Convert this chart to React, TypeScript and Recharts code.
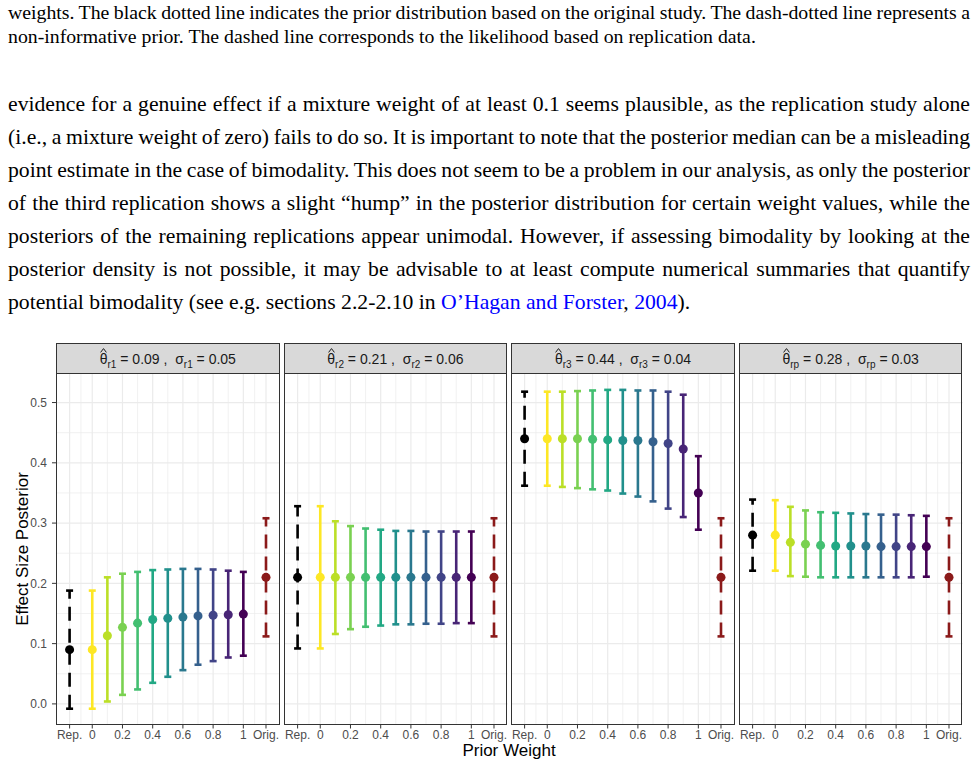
import React from 'react';
import { ScatterChart, Scatter, XAxis, YAxis, CartesianGrid, ErrorBar } from 'recharts';

// ---- data -------------------------------------------------------------

// mixture weights given to the original study in the prior
const priorWeights = [0, 0.1, 0.2, 0.3, 0.4, 0.5, 0.6, 0.7, 0.8, 0.9, 1];
const weightColors = ['#FDE725', '#BBDF27', '#7AD151', '#43BF71', '#22A884', '#21908C', '#2A788E', '#35608D', '#414487', '#482576', '#440154'];
const repColor = '#000000';
const origColor = '#8B1A1A';

// facet strip labels
const facetSubscripts = ['r1', 'r2', 'r3', 'rp'];
const facetThetaHat = ['0.09', '0.21', '0.44', '0.28'];
const facetSigma = ['0.05', '0.06', '0.04', '0.03'];

// replication data alone ("Rep.")
const repEstimate = [0.09, 0.21, 0.44, 0.28];
const repLower = [-0.008, 0.092, 0.362, 0.221];
const repUpper = [0.188, 0.328, 0.518, 0.339];

// original study ("Orig.")
const origEstimate = [0.21, 0.21, 0.21, 0.21];
const origLower = [0.112, 0.112, 0.112, 0.112];
const origUpper = [0.308, 0.308, 0.308, 0.308];

// posterior medians and 95% credible limits per prior weight
const r1Median = [0.09, 0.113, 0.127, 0.134, 0.14, 0.142, 0.144, 0.146, 0.147, 0.148, 0.149];
const r1Lower = [-0.008, 0.004, 0.015, 0.024, 0.035, 0.045, 0.056, 0.065, 0.071, 0.077, 0.08];
const r1Upper = [0.188, 0.21, 0.216, 0.219, 0.222, 0.223, 0.224, 0.224, 0.223, 0.221, 0.219];

const r2Median = [0.21, 0.21, 0.21, 0.21, 0.21, 0.21, 0.21, 0.21, 0.21, 0.21, 0.21];
const r2Lower = [0.092, 0.116, 0.124, 0.128, 0.13, 0.132, 0.132, 0.133, 0.133, 0.134, 0.134];
const r2Upper = [0.328, 0.303, 0.295, 0.291, 0.289, 0.287, 0.287, 0.286, 0.286, 0.286, 0.286];

const r3Median = [0.44, 0.44, 0.44, 0.439, 0.438, 0.437, 0.437, 0.435, 0.432, 0.423, 0.35];
const r3Lower = [0.362, 0.36, 0.358, 0.356, 0.354, 0.349, 0.344, 0.336, 0.324, 0.31, 0.289];
const r3Upper = [0.518, 0.518, 0.519, 0.52, 0.521, 0.521, 0.52, 0.52, 0.518, 0.513, 0.411];

const rpMedian = [0.28, 0.268, 0.265, 0.263, 0.262, 0.262, 0.262, 0.261, 0.261, 0.261, 0.261];
const rpLower = [0.221, 0.212, 0.211, 0.21, 0.21, 0.21, 0.21, 0.21, 0.21, 0.21, 0.211];
const rpUpper = [0.338, 0.327, 0.321, 0.318, 0.317, 0.316, 0.315, 0.314, 0.314, 0.313, 0.312];

const panelMedians = [r1Median, r2Median, r3Median, rpMedian];
const panelLowers = [r1Lower, r2Lower, r3Lower, rpLower];
const panelUppers = [r1Upper, r2Upper, r3Upper, rpUpper];

// axis positions and labels
const xRep = -0.15;
const xOrig = 1.15;
const xTickValues = [-0.15, 0, 0.2, 0.4, 0.6, 0.8, 1, 1.15];
const xTickLabels = ['Rep.', '0', '0.2', '0.4', '0.6', '0.8', '1', 'Orig.'];
const xMinorBreaks = [-0.075, 0.1, 0.3, 0.5, 0.7, 0.9, 1.075];
const yTickValues = [0, 0.1, 0.2, 0.3, 0.4, 0.5];
const yTickLabels = ['0.0', '0.1', '0.2', '0.3', '0.4', '0.5'];
const yMinorBreaks = [0.05, 0.15, 0.25, 0.35, 0.45];
const xDomain = [-0.24, 1.24];
const yDomain = [-0.035, 0.549];

// ---- page text ---------------------------------------------------------

const captionLines = [
  'weights. The black dotted line indicates the prior distribution based on the original study. The dash-dotted line represents a',
  'non-informative prior. The dashed line corresponds to the likelihood based on replication data.',
];

const bodyLines = [
  'evidence for a genuine effect if a mixture weight of at least 0.1 seems plausible, as the replication study alone',
  '(i.e., a mixture weight of zero) fails to do so. It is important to note that the posterior median can be a misleading',
  'point estimate in the case of bimodality. This does not seem to be a problem in our analysis, as only the posterior',
  'of the third replication shows a slight \u201Chump\u201D in the posterior distribution for certain weight values, while the',
  'posteriors of the remaining replications appear unimodal. However, if assessing bimodality by looking at the',
  'posterior density is not possible, it may be advisable to at least compute numerical summaries that quantify',
];

// ---- layout ------------------------------------------------------------

const SANS = "'Liberation Sans', Arial, Helvetica, sans-serif";
const SERIF = "'Liberation Serif', 'Times New Roman', Times, serif";
const PANEL_LEFTS = [56, 283.6, 511.2, 738.8];
const PANEL_W = 223.6;
const PLOT_TOP = 373;
const PLOT_H = 352;
const STRIP_TOP = 343;
const STRIP_H = 30;
const AXIS_H = 22;
const PAD = 22;
const Y_AXIS_W = 56;

const fmtX = (v: number) => {
  const i = xTickValues.findIndex((t) => Math.abs(t - v) < 1e-9);
  return i >= 0 ? xTickLabels[i] : String(v);
};
const fmtY = (v: number) => {
  const i = yTickValues.findIndex((t) => Math.abs(t - v) < 1e-9);
  return i >= 0 ? yTickLabels[i] : String(v);
};

type Row = { x: number; y: number; err: [number, number] };
const row = (x: number, est: number, lo: number, hi: number): Row => ({ x, y: est, err: [est - lo, hi - est] });

function Panel({ index }: { index: number }) {
  const first = index === 0;
  const left = first ? 0 : PANEL_LEFTS[index] - PAD;
  const width = first ? Y_AXIS_W + PANEL_W + PAD : PANEL_W + 2 * PAD;
  const med = panelMedians[index];
  const lo = panelLowers[index];
  const hi = panelUppers[index];

  const barProps = { direction: 'y' as const, dataKey: 'err', width: 3.5, strokeWidth: 2.6, isAnimationActive: false };

  return (
    <div style={{ position: 'absolute', left, top: PLOT_TOP }}>
      <ScatterChart
        width={width}
        height={PLOT_H + AXIS_H}
        margin={{ top: 0, right: PAD, bottom: 0, left: first ? 0 : PAD }}
      >
        <CartesianGrid stroke="#EBEBEB" strokeWidth={1.2} verticalValues={xTickValues} horizontalValues={yTickValues} />
        <CartesianGrid stroke="#EBEBEB" strokeWidth={0.7} verticalValues={xMinorBreaks} horizontalValues={yMinorBreaks} />
        <XAxis
          type="number"
          dataKey="x"
          domain={xDomain}
          allowDataOverflow
          ticks={xTickValues}
          tickFormatter={fmtX}
          interval={0}
          height={AXIS_H}
          axisLine={false}
          tickLine={{ stroke: '#333333' }}
          tickSize={3.5}
          tickMargin={1.5}
          tick={{ fill: '#4D4D4D', fontSize: 12, fontFamily: SANS }}
        />
        <YAxis
          type="number"
          dataKey="y"
          domain={yDomain}
          allowDataOverflow
          hide={!first}
          ticks={yTickValues}
          tickFormatter={fmtY}
          interval={0}
          width={Y_AXIS_W}
          axisLine={false}
          tickLine={{ stroke: '#333333' }}
          tickSize={4}
          tickMargin={5}
          tick={{ fill: '#4D4D4D', fontSize: 12, fontFamily: SANS }}
        />
        <Scatter data={[row(xRep, repEstimate[index], repLower[index], repUpper[index])]} fill={repColor} isAnimationActive={false}>
          <ErrorBar {...barProps} stroke={repColor} strokeDasharray="14 8" />
        </Scatter>
        {priorWeights.map((w, k) => (
          <Scatter key={k} data={[row(w, med[k], lo[k], hi[k])]} fill={weightColors[k]} isAnimationActive={false}>
            <ErrorBar {...barProps} stroke={weightColors[k]} />
          </Scatter>
        ))}
        <Scatter data={[row(xOrig, origEstimate[index], origLower[index], origUpper[index])]} fill={origColor} isAnimationActive={false}>
          <ErrorBar {...barProps} stroke={origColor} strokeDasharray="14 8" />
        </Scatter>
      </ScatterChart>
    </div>
  );
}

// theta with a hat accent drawn as a small stroke above it
function ThetaHat() {
  return (
    <span style={{ position: 'relative', display: 'inline-block' }}>
      {'\u03B8'}
      <svg
        width={7}
        height={5}
        style={{ position: 'absolute', left: '50%', marginLeft: -3.5, top: -3, overflow: 'visible' }}
      >
        <polyline points="0.6,4.4 3.5,0.6 6.4,4.4" fill="none" stroke="#1A1A1A" strokeWidth={1} />
      </svg>
    </span>
  );
}

function StripLabel({ index }: { index: number }) {
  const sub = facetSubscripts[index];
  const subStyle: React.CSSProperties = { fontSize: 10, position: 'relative', top: 4 };
  return (
    <span style={{ whiteSpace: 'pre' }}>
      <ThetaHat />
      <span style={subStyle}>{sub}</span>
      {' = ' + facetThetaHat[index] + ' ,  \u03C3'}
      <span style={subStyle}>{sub}</span>
      {' = ' + facetSigma[index]}
    </span>
  );
}

export default function App() {
  const justified: React.CSSProperties = { textAlign: 'justify', textAlignLast: 'justify', wordSpacing: '-3px' };
  return (
    <div style={{ position: 'absolute', left: 0, top: 0, width: 978, height: 766, background: '#FFFFFF', overflow: 'hidden' }}>
      {/* caption tail */}
      {captionLines.map((t, i) => (
        <div
          key={'c' + i}
          style={{
            position: 'absolute', left: 8, top: 0.3 + 24 * i, width: 962, fontFamily: SERIF, fontSize: 19.8,
            lineHeight: '24px', color: '#000', whiteSpace: 'normal',
            ...(i === 0 ? justified : {}),
          }}
        >
          {t}
        </div>
      ))}

      {/* body paragraph */}
      {bodyLines.map((t, i) => (
        <div
          key={'b' + i}
          style={{ position: 'absolute', left: 8, top: 87.7 + 33 * i, width: 962, fontFamily: SERIF, fontSize: 21.7, lineHeight: '33px', color: '#000', ...justified }}
        >
          {t}
        </div>
      ))}
      <div style={{ position: 'absolute', left: 8, top: 87.7 + 33 * 6, width: 962, fontFamily: SERIF, fontSize: 21.7, lineHeight: '33px', color: '#000' }}>
        potential bimodality (see e.g. sections 2.2-2.10 in{' '}
        <span style={{ color: '#0000FF' }}>O{'\u2019'}Hagan and Forster</span>, <span style={{ color: '#0000FF' }}>2004</span>).
      </div>

      {/* facet panels */}
      {PANEL_LEFTS.map((_, i) => (
        <Panel key={i} index={i} />
      ))}

      {/* panel borders */}
      {PANEL_LEFTS.map((x, i) => (
        <div
          key={'f' + i}
          style={{ position: 'absolute', left: x, top: PLOT_TOP, width: PANEL_W, height: PLOT_H, border: '1px solid #333333', boxSizing: 'border-box', pointerEvents: 'none' }}
        />
      ))}

      {/* strips */}
      {PANEL_LEFTS.map((x, i) => (
        <div
          key={'s' + i}
          style={{
            position: 'absolute', left: x, top: STRIP_TOP, width: PANEL_W, height: STRIP_H + 1, boxSizing: 'border-box',
            background: '#D9D9D9', border: '1px solid #333333', display: 'flex', alignItems: 'center', justifyContent: 'center',
            fontFamily: SANS, fontSize: 14, color: '#1A1A1A', paddingTop: 1,
          }}
        >
          <StripLabel index={i} />
        </div>
      ))}

      {/* axis titles */}
      <div
        style={{
          position: 'absolute', left: 23.4 - 150, top: 549 - 10, width: 300, height: 20, lineHeight: '20px', textAlign: 'center',
          transform: 'rotate(-90deg)', transformOrigin: '50% 50%', fontFamily: SANS, fontSize: 17, color: '#000',
        }}
      >
        Effect Size Posterior
      </div>
      <div style={{ position: 'absolute', left: 359, top: 744.3, width: 300, height: 14, lineHeight: '14px', textAlign: 'center', fontFamily: SANS, fontSize: 17, color: '#000' }}>
        Prior Weight
      </div>
    </div>
  );
}
